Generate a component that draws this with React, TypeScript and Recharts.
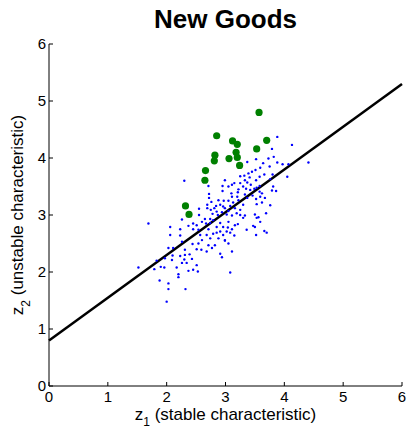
import React from 'react'
import {
  ScatterChart,
  Scatter,
  XAxis,
  YAxis,
  ReferenceLine,
  Label
} from 'recharts'

const FONT = '"Liberation Sans", Arial, sans-serif'

const xTicks = [0, 1, 2, 3, 4, 5, 6]
const yTicks = [0, 1, 2, 3, 4, 5, 6]

// fitted line, end points
const fitLine = [
  { x: 0, y: 0.8 },
  { x: 6, y: 5.3 }
]

// new goods (green)
const newGoods: [number, number][] = [
  [3.57, 4.8], [2.85, 4.39], [3.12, 4.3], [3.2, 4.24], [3.7, 4.31],
  [3.53, 4.16], [3.18, 4.1], [2.82, 4.05], [2.81, 3.95], [3.06, 3.99],
  [3.2, 4.01], [3.24, 3.87], [2.66, 3.78], [2.65, 3.61], [2.32, 3.16],
  [2.38, 3.01]
]

// existing goods (blue dots)
const sample: [number, number][] = [
  [2.3, 3.6], [2.71, 3.51], [2.95, 3.51], [2.99, 3.61], [2.95, 3.42],
  [2.72, 3.37], [2.72, 3.3], [2.88, 3.26], [2.97, 3.25], [2.76, 3.23],
  [2.69, 3.18], [2.84, 3.16], [2.91, 3.18], [2.96, 3.15], [2.69, 3.12],
  [2.75, 3.09], [2.81, 3.12], [2.55, 3.11], [2.85, 3.06], [2.78, 3.02],
  [2.94, 3.05], [2.55, 3.0], [2.65, 2.93], [2.74, 2.93], [2.26, 2.92],
  [2.87, 3.0], [3.88, 4.37], [4.13, 4.23], [3.79, 4.16], [3.82, 4.02],
  [3.73, 3.99], [3.52, 3.98], [3.37, 3.93], [3.64, 3.91], [4.41, 3.92],
  [3.88, 3.92], [3.97, 3.89], [4.07, 3.89], [3.59, 3.83], [3.75, 3.85],
  [3.51, 3.79], [3.45, 3.76], [3.39, 3.73], [3.66, 3.71], [3.8, 3.71],
  [3.32, 3.69], [3.25, 3.68], [3.41, 3.66], [3.58, 3.67], [4.05, 3.67],
  [3.76, 3.63], [3.33, 3.61], [3.52, 3.61], [3.15, 3.56], [3.25, 3.56],
  [3.37, 3.57], [3.43, 3.53], [3.11, 3.53], [3.3, 3.5], [3.05, 3.5],
  [3.58, 3.51], [3.81, 3.5], [3.53, 3.48], [3.49, 3.46], [3.35, 3.46],
  [3.42, 3.44], [3.22, 3.45], [3.79, 3.43], [3.86, 3.42], [3.58, 3.41],
  [3.1, 3.38], [3.21, 3.4], [3.62, 3.38], [3.33, 3.36], [3.46, 3.34],
  [3.59, 3.32], [3.11, 3.32], [3.2, 3.32], [3.37, 3.3], [3.67, 3.3],
  [3.52, 3.28], [3.22, 3.26], [3.05, 3.25], [3.13, 3.22], [3.62, 3.22],
  [3.53, 3.19], [3.3, 3.18], [3.76, 3.17], [3.08, 3.16], [3.16, 3.12],
  [2.99, 3.12], [3.25, 3.09], [3.05, 3.07], [3.19, 3.03], [3.33, 2.99],
  [3.5, 3.01], [3.69, 3.03], [3.53, 2.95], [3.02, 3.01], [3.11, 2.99],
  [3.25, 3.0], [3.3, 2.95], [1.69, 2.85], [2.06, 2.79], [2.37, 2.81],
  [2.45, 2.85], [2.51, 2.82], [2.6, 2.88], [2.67, 2.85], [2.74, 2.86],
  [2.79, 2.91], [2.91, 2.86], [2.85, 2.79], [2.96, 2.79], [2.45, 2.75],
  [2.54, 2.74], [2.23, 2.75], [2.71, 2.75], [2.91, 2.71], [2.06, 2.65],
  [2.23, 2.64], [2.57, 2.65], [2.68, 2.65], [2.79, 2.67], [2.85, 2.69],
  [2.96, 2.65], [2.6, 2.56], [2.74, 2.59], [2.88, 2.59], [2.99, 2.56],
  [2.26, 2.53], [2.44, 2.49], [2.54, 2.5], [2.71, 2.47], [2.82, 2.47],
  [2.77, 2.42], [2.03, 2.42], [2.11, 2.42], [2.51, 2.4], [2.68, 2.36],
  [2.31, 2.39], [2.59, 2.39], [2.91, 2.32], [2.1, 2.29], [2.23, 2.28],
  [2.31, 2.3], [2.39, 2.31], [2.94, 2.26], [2.43, 2.23], [2.3, 2.22],
  [1.83, 2.2], [1.97, 2.24], [2.09, 2.21], [2.26, 2.16], [2.34, 2.16],
  [1.9, 2.09], [2.17, 2.08], [2.51, 2.12], [1.96, 2.08], [1.79, 2.05],
  [1.52, 2.08], [2.45, 2.04], [2.37, 2.02], [2.53, 2.01], [2.2, 1.96],
  [2.2, 1.91], [1.88, 1.85], [2.03, 1.8], [2.03, 1.7], [2.32, 1.7],
  [2.0, 1.48], [3.05, 2.88], [3.16, 2.82], [3.21, 2.84], [3.04, 2.78],
  [3.11, 2.75], [3.02, 2.71], [3.08, 2.69], [3.15, 2.64], [3.36, 2.74],
  [3.47, 2.81], [3.5, 2.79], [3.59, 2.88], [3.66, 2.72], [3.7, 2.69],
  [3.52, 2.65], [2.99, 2.55], [3.05, 2.5], [3.11, 2.36], [3.08, 1.99],
  [3.56, 2.96]
]

const toPoints = (arr: [number, number][]) => arr.map(([x, y]) => ({ x, y }))

const XTick = (props: any) => {
  const { x, y, payload } = props
  return (
    <g>
      <line x1={x} y1={y} x2={x} y2={y - 4} stroke="#000" strokeWidth={1} />
      <text x={x} y={y + 16} textAnchor="middle" fontSize={15} fontFamily={FONT} fill="#000">
        {payload.value}
      </text>
    </g>
  )
}

const YTick = (props: any) => {
  const { x, y, payload } = props
  return (
    <g>
      <line x1={x} y1={y} x2={x + 4} y2={y} stroke="#000" strokeWidth={1} />
      <text x={x - 3} y={y + 5} textAnchor="end" fontSize={15} fontFamily={FONT} fill="#000">
        {payload.value}
      </text>
    </g>
  )
}

const XLabel = (props: any) => {
  const vb = props.viewBox
  const cx = vb.x + vb.width / 2
  return (
    <text x={cx} y={vb.y + 34} textAnchor="middle" fontSize={17} fontFamily={FONT} fill="#000">
      z<tspan fontSize={12} dy={6}>1</tspan>
      <tspan dy={-6}> (stable characteristic)</tspan>
    </text>
  )
}

const YLabel = (props: any) => {
  const vb = props.viewBox
  const cy = vb.y + vb.height / 2
  return (
    <text
      x={23}
      y={cy}
      transform={`rotate(-90, 23, ${cy})`}
      textAnchor="middle"
      fontSize={17}
      fontFamily={FONT}
      fill="#000"
    >
      z<tspan fontSize={12} dy={7}>2</tspan>
      <tspan dy={-7}> (unstable characteristic)</tspan>
    </text>
  )
}

const BlueDot = (props: any) => (
  <circle cx={props.cx} cy={props.cy} r={1.2} fill="#0000ff" />
)

const GreenDot = (props: any) => (
  <circle cx={props.cx} cy={props.cy} r={3.6} fill="#008000" />
)

export default function App() {
  return (
    <div style={{ position: 'absolute', left: 0, top: 0, width: 410, height: 429, background: '#fff' }}>
      <div
        style={{
          position: 'absolute',
          left: 49,
          width: 353,
          top: 4,
          textAlign: 'center',
          fontFamily: FONT,
          fontWeight: 'bold',
          fontSize: 26,
          lineHeight: '30px',
          color: '#000'
        }}
      >
        New Goods
      </div>
      <ScatterChart
        width={410}
        height={429}
        margin={{ top: 44, right: 8, bottom: 0, left: 0 }}
      >
        <XAxis
          type="number"
          dataKey="x"
          domain={[0, 6]}
          ticks={xTicks}
          interval={0}
          height={43}
          tickSize={0}
          tickMargin={0}
          tick={<XTick />}
          tickLine={false}
          axisLine={{ stroke: '#000', strokeWidth: 1 }}
        >
          <Label content={<XLabel />} />
        </XAxis>
        <YAxis
          type="number"
          dataKey="y"
          domain={[0, 6]}
          ticks={yTicks}
          interval={0}
          width={49}
          tickSize={0}
          tickMargin={0}
          tick={<YTick />}
          tickLine={false}
          axisLine={{ stroke: '#000', strokeWidth: 1 }}
        >
          <Label content={<YLabel />} />
        </YAxis>
        <Scatter
          data={toPoints(sample)}
          shape={<BlueDot />}
          isAnimationActive={false}
        />
        <ReferenceLine
          segment={fitLine}
          stroke="#000"
          strokeWidth={2.5}
        />
        <Scatter
          data={toPoints(newGoods)}
          shape={<GreenDot />}
          isAnimationActive={false}
        />
      </ScatterChart>
    </div>
  )
}
